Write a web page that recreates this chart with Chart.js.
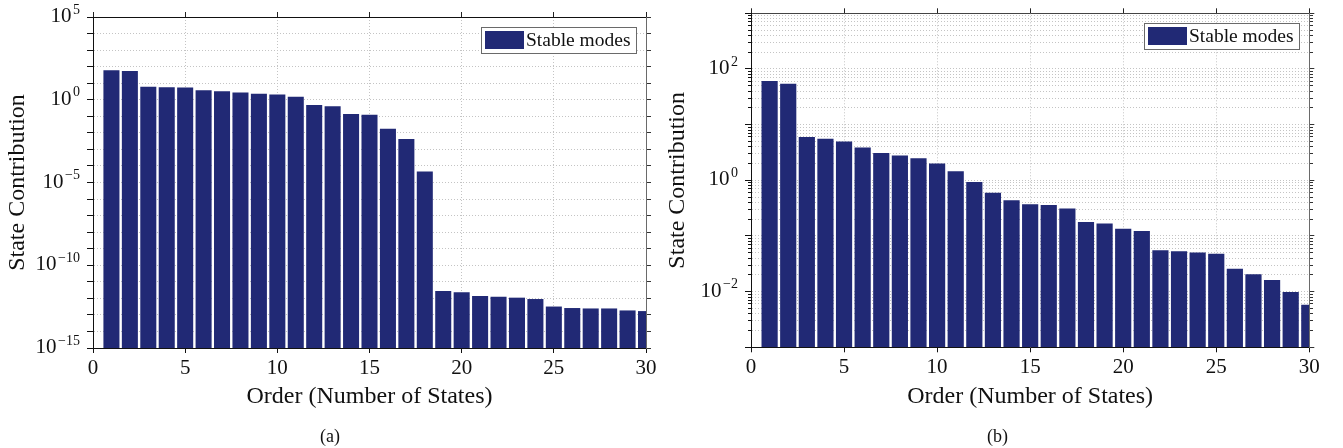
<!DOCTYPE html>
<html><head><meta charset="utf-8">
<script src="https://cdn.jsdelivr.net/npm/chart.js@4/dist/chart.umd.min.js"></script>
<style>
html,body{margin:0;padding:0;background:#fff;}
#wrap{position:relative;width:1343px;height:448px;overflow:hidden;}
canvas{position:absolute;top:0;}
</style></head><body>
<div id="wrap">
<canvas id="ca" width="660" height="448" style="left:0"></canvas>
<canvas id="cb" width="683" height="448" style="left:660px"></canvas>
</div>
<script>
// ---- data ----
const orders = [1,2,3,4,5,6,7,8,9,10,11,12,13,14,15,16,17,18,19,20,21,22,23,24,25,26,27,28,29,30];
const contributionA = [60, 55, 6.0, 5.7, 5.5, 3.8, 3.3, 2.75, 2.3, 2.1, 1.5, 0.48, 0.40, 0.138, 0.126, 0.0174, 0.0042, 4.6e-5,
  2.75e-12, 2.3e-12, 1.4e-12, 1.26e-12, 1.1e-12, 9.1e-13, 3.2e-13, 2.6e-13, 2.45e-13, 2.45e-13, 1.86e-13, 1.7e-13];
const contributionB = [61, 54, 6.0, 5.6, 5.0, 3.9, 3.1, 2.8, 2.5, 2.0, 1.45, 0.93, 0.60, 0.44, 0.37, 0.36, 0.31, 0.178, 0.168, 0.135,
  0.123, 0.0556, 0.0533, 0.0505, 0.0477, 0.0257, 0.0206, 0.0162, 0.0099, 0.0058];
const xTickValues = [0, 5, 10, 15, 20, 25, 30];
const expRangeA = [-15, 5];
const expRangeB = [-3, 3];
const labelEveryA = 5;
const labelEveryB = 2;
const seriesLabel = 'Stable modes';
const xTitle = 'Order (Number of States)';
const yTitle = 'State Contribution';
const captions = ['(a)', '(b)'];

// ---- styling ----
const FONT = "'Liberation Serif', 'DejaVu Serif', serif";
const BAR = '#212975';
const GRID = '#c4c4c4';
const INK = '#111';
Chart.defaults.font.family = FONT;
Chart.defaults.color = INK;

function logTicks(minE, maxE, withMinor){
  const t = [];
  for (let e = minE; e <= maxE; e++){
    t.push({value: Math.pow(10, e), major: true});
    if (withMinor && e < maxE) for (let m = 2; m <= 9; m++) t.push({value: m * Math.pow(10, e), major: false});
  }
  return t;
}

// draws "10" with a raised exponent for each labelled tick of the y scale
const powerTickLabels = {
  id: 'powerTickLabels',
  afterDraw(chart){
    const s = chart.scales.y, ctx = chart.ctx;
    ctx.save();
    ctx.fillStyle = INK; ctx.textBaseline = 'alphabetic'; ctx.textAlign = 'right';
    s.ticks.forEach(t => {
      if (!t.label) return;
      const y = s.getPixelForValue(t.value);
      const xr = s.right - 13;
      ctx.font = '14px ' + FONT;
      const ew = ctx.measureText(t.label).width;
      ctx.fillText(t.label, xr, y - 3.3);
      ctx.font = '21px ' + FONT;
      ctx.fillText('10', xr - ew - 1.5, y + 5);
    });
    ctx.restore();
  }
};

const boxLegend = {
  id: 'boxLegend',
  afterDatasetsDraw(chart){
    const {ctx, chartArea} = chart;
    const ds = chart.data.datasets[0];
    ctx.save();
    ctx.font = '19.5px ' + FONT;
    const tw = ctx.measureText(ds.label).width;
    const h = 26, sw = 39, pad = 3;
    const w = Math.round(pad + sw + 3 + tw + 5);
    const x = Math.round(chartArea.right - 10 - w), y = Math.round(chartArea.top + 10);
    ctx.fillStyle = '#fff'; ctx.fillRect(x, y, w, h);
    ctx.strokeStyle = '#6a6a6a'; ctx.lineWidth = 1; ctx.strokeRect(x + 0.5, y + 0.5, w, h);
    ctx.fillStyle = ds.backgroundColor; ctx.fillRect(x + pad + 1, y + 4, sw, h - 8);
    ctx.fillStyle = INK; ctx.textBaseline = 'middle'; ctx.textAlign = 'left';
    ctx.fillText(ds.label, x + pad + sw + 3, y + h / 2 + 1);
    ctx.restore();
  }
};

function makeChart(id, values, expRange, labelEvery, withMinor, area, W, padRight, caption, topColor){
  const H = 448;
  const titleBoxH = 18 * 1.2;
  const xTitleLH = 24 * 1.2;
  const minorDashLeft = (c) => (c.tick && !c.tick.major) ? [0, 3, 3] : [];
  const minorDashRight = (c) => (c.tick && !c.tick.major) ? [3, 100] : [];
  return new Chart(document.getElementById(id), {
    type: 'bar',
    data: {
      datasets: [{
        label: seriesLabel,
        data: orders.map((o, i) => ({x: o, y: values[i]})),
        backgroundColor: BAR,
        borderWidth: 0,
        barPercentage: 0.87,
        categoryPercentage: 1,
        clip: 0,
        xAxisID: 'x', yAxisID: 'y'
      }]
    },
    plugins: [boxLegend, powerTickLabels],
    options: {
      responsive: false,
      devicePixelRatio: 1,
      animation: false,
      events: [],
      layout: {padding: {left: 0, top: 0, bottom: 0, right: padRight}},
      plugins: {
        legend: {display: false},
        tooltip: {enabled: false},
        title: {display: true, text: caption, position: 'bottom', font: {size: 18, weight: 'normal'}, padding: {top: 0, bottom: 0}, color: INK}
      },
      scales: {
        x: {
          type: 'linear', position: 'bottom', min: 0, max: 30, offset: false,
          afterBuildTicks: s => { s.ticks = xTickValues.map(v => ({value: v})); },
          afterFit: s => { s.height = H - titleBoxH - area.bottom; },
          ticks: {autoSkip: false, font: {size: 21}, padding: 3, maxRotation: 0, callback: v => String(v)},
          grid: {offset: false, color: GRID, lineWidth: 1, tickLength: 5, tickColor: INK, tickWidth: 1},
          border: {display: true, color: INK, width: 1, dash: [1, 2], z: 1},
          title: {display: true, text: xTitle, font: {size: 24}, padding: {top: 0, bottom: (H - titleBoxH) - 397 - xTitleLH / 2}, color: INK}
        },
        x2: {
          type: 'linear', position: 'top', min: 0, max: 30, offset: false,
          afterBuildTicks: s => { s.ticks = xTickValues.map(v => ({value: v})); },
          afterFit: s => { s.height = area.top; },
          ticks: {display: false, autoSkip: false},
          grid: {offset: false, drawOnChartArea: false, tickLength: 5, tickColor: '#222', tickWidth: 1},
          border: {display: true, color: topColor, width: 1, z: 1}
        },
        y: {
          type: 'logarithmic', position: 'left', min: Math.pow(10, expRange[0]), max: Math.pow(10, expRange[1]),
          afterBuildTicks: s => { s.ticks = logTicks(expRange[0], expRange[1], withMinor); },
          afterFit: s => { s.width = area.left; },
          ticks: {
            display: false, autoSkip: false,
            callback: (v, i, ticks) => {
              if (!ticks[i].major) return '';
              const e = Math.round(Math.log10(v));
              return (e % labelEvery === 0) ? String(e).replace('-', '\u2212') : '';
            }
          },
          grid: {color: GRID, lineWidth: 1, tickLength: 6, tickColor: INK, tickWidth: 1, tickBorderDash: minorDashLeft},
          border: {display: true, color: INK, width: 1, dash: [1, 2], z: 1},
          title: {display: true, text: yTitle, font: {size: 24}, padding: {top: 3, bottom: 0}, color: INK}
        },
        y2: {
          type: 'logarithmic', position: 'right', min: Math.pow(10, expRange[0]), max: Math.pow(10, expRange[1]),
          afterBuildTicks: s => { s.ticks = logTicks(expRange[0], expRange[1], withMinor); },
          afterFit: s => { s.width = W - padRight - area.right; },
          ticks: {display: false, autoSkip: false},
          grid: {drawOnChartArea: false, tickLength: 5, tickColor: '#333', tickWidth: 1, tickBorderDash: minorDashRight},
          border: {display: true, color: '#6a6a6a', width: 1, z: 1}
        }
      }
    }
  });
}

makeChart('ca', contributionA, expRangeA, labelEveryA, false, {left: 93, top: 17, right: 646, bottom: 348}, 660, 0, captions[0], INK);
makeChart('cb', contributionB, expRangeB, labelEveryB, true, {left: 91, top: 13.3, right: 649.3, bottom: 347.3}, 683, 8, captions[1], '#444');
</script>
</body></html>
